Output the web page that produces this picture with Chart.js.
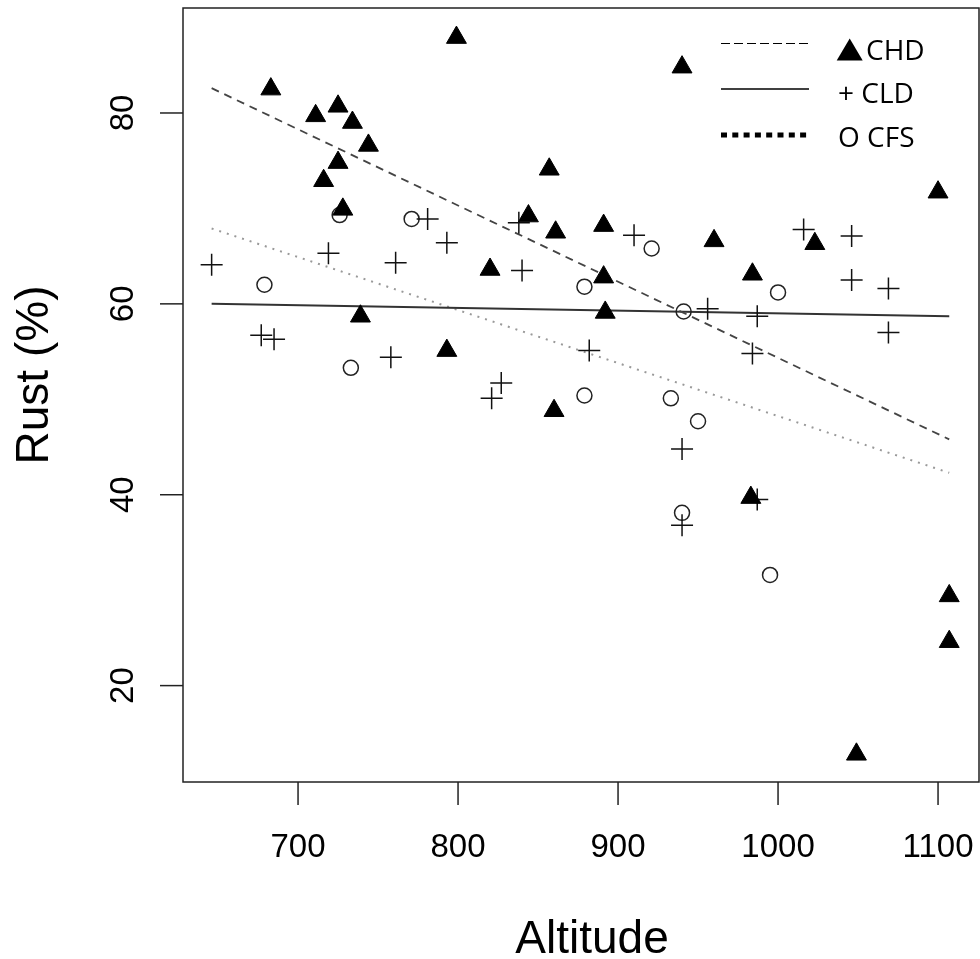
<!DOCTYPE html>
<html>
<head>
<meta charset="utf-8">
<script src="https://cdn.jsdelivr.net/npm/chart.js@4.4.0/dist/chart.umd.min.js"></script>
<style>
  body { margin: 0; background: #fff; }
  canvas { display: block; }
</style>
</head>
<body>
<canvas id="myChart" width="980" height="959"></canvas>
<script>
// values
const chdAlt = [799, 683, 725, 711, 734, 744, 725, 716, 728, 857, 844, 861, 820, 739, 793, 940, 1100, 891, 960, 1023, 984, 891, 892, 983, 1107, 1107, 1049, 860];
const chdRust = [87.9, 82.5, 80.7, 79.7, 79.0, 76.6, 74.8, 72.9, 69.9, 74.1, 69.2, 67.5, 63.6, 58.7, 55.1, 84.8, 71.7, 68.2, 66.6, 66.3, 63.1, 62.8, 59.1, 39.7, 29.4, 24.6, 12.8, 48.8];

const cldAlt = [646, 719, 761, 781, 793, 838, 840, 677, 685, 758, 827, 821, 910, 1016, 1046, 1046, 1069, 1069, 956, 987, 882, 984, 940, 940, 987];
const cldRust = [64.1, 65.3, 64.3, 68.9, 66.4, 68.5, 63.5, 56.7, 56.3, 54.4, 51.7, 50.1, 67.2, 67.8, 67.1, 62.5, 61.6, 57.0, 59.5, 58.7, 55.1, 54.8, 44.8, 36.8, 39.5];

const cfsAlt = [679, 726, 771, 733, 879, 921, 1000, 941, 879, 933, 950, 940, 995];
const cfsRust = [62.0, 69.3, 68.9, 53.3, 61.8, 65.8, 61.2, 59.2, 50.4, 50.1, 47.7, 38.1, 31.6];

// fitted lines, end points
const fitAlt = [646, 1107];
const chdFit = [82.6, 45.8];
const cldFit = [60.0, 58.7];
const cfsFit = [67.9, 42.3];

const xTicks = [700, 800, 900, 1000, 1100];
const yTicks = [20, 40, 60, 80];
const legendNames = ["CHD", "+ CLD", "O CFS"];

const pts = (xs, ys) => xs.map((x, i) => ({ x: x, y: ys[i] }));

const rPlot = {
  id: "rPlot",
  afterDraw(chart) {
    const ctx = chart.ctx;
    const a = chart.chartArea;
    const xs = chart.scales.x;
    const ys = chart.scales.y;
    ctx.save();
    ctx.strokeStyle = "#222";
    ctx.lineWidth = 1.5;
    ctx.strokeRect(a.left, a.top, a.right - a.left, a.bottom - a.top);

    ctx.fillStyle = "#000";
    ctx.font = "33px 'Liberation Sans', Arial, sans-serif";
    ctx.textAlign = "center";
    ctx.textBaseline = "alphabetic";
    xTicks.forEach((v) => {
      const px = xs.getPixelForValue(v);
      ctx.beginPath();
      ctx.moveTo(px, a.bottom);
      ctx.lineTo(px, a.bottom + 23);
      ctx.stroke();
      ctx.fillText(String(v), px, 857);
    });
    yTicks.forEach((v) => {
      const py = ys.getPixelForValue(v);
      ctx.beginPath();
      ctx.moveTo(a.left, py);
      ctx.lineTo(a.left - 23, py);
      ctx.stroke();
      ctx.save();
      ctx.translate(133, py);
      ctx.rotate(-Math.PI / 2);
      ctx.fillText(String(v), 0, 0);
      ctx.restore();
    });

    ctx.font = "46px 'Liberation Sans', Arial, sans-serif";
    ctx.fillText("Altitude", 592, 953);
    ctx.save();
    ctx.translate(48, 375);
    ctx.rotate(-Math.PI / 2);
    ctx.fillText("Rust (%)", 0, 0);
    ctx.restore();

    // legend
    ctx.strokeStyle = "#000";
    ctx.lineWidth = 1.2;
    ctx.setLineDash([9, 4]);
    ctx.beginPath();
    ctx.moveTo(721, 43.5);
    ctx.lineTo(809, 43.5);
    ctx.stroke();
    ctx.setLineDash([]);
    ctx.lineWidth = 1.6;
    ctx.beginPath();
    ctx.moveTo(721, 89);
    ctx.lineTo(809, 89);
    ctx.stroke();
    ctx.lineWidth = 5;
    ctx.setLineDash([6, 5.3]);
    ctx.beginPath();
    ctx.moveTo(721, 135);
    ctx.lineTo(809, 135);
    ctx.stroke();
    ctx.setLineDash([]);

    ctx.beginPath();
    ctx.moveTo(849.7, 38.5);
    ctx.lineTo(862.7, 60.5);
    ctx.lineTo(836.7, 60.5);
    ctx.closePath();
    ctx.fill();

    ctx.font = "28px 'Open Sans', sans-serif";
    ctx.textAlign = "left";
    ctx.fillText(legendNames[0], 866, 60);
    ctx.fillText(legendNames[1], 838, 103);
    ctx.fillText(legendNames[2], 838, 147);
    ctx.restore();
  },
};

new Chart(document.getElementById("myChart"), {
  data: {
    datasets: [
      {
        type: "scatter",
        data: pts(chdAlt, chdRust),
        pointStyle: "triangle",
        pointRadius: 11.5,
        backgroundColor: "#000",
        borderColor: "#000",
        borderWidth: 1,
      },
      {
        type: "scatter",
        data: pts(cldAlt, cldRust),
        pointStyle: "cross",
        pointRadius: 11,
        borderColor: "#111",
        borderWidth: 1.5,
      },
      {
        type: "scatter",
        data: pts(cfsAlt, cfsRust),
        pointStyle: "circle",
        pointRadius: 7.5,
        backgroundColor: "rgba(0,0,0,0)",
        borderColor: "#222",
        borderWidth: 1.5,
      },
      {
        type: "line",
        data: pts(fitAlt, chdFit),
        borderColor: "#444",
        borderWidth: 1.8,
        borderDash: [8, 6],
        pointRadius: 0,
      },
      {
        type: "line",
        data: pts(fitAlt, cldFit),
        borderColor: "#333",
        borderWidth: 2,
        pointRadius: 0,
      },
      {
        type: "line",
        data: pts(fitAlt, cfsFit),
        borderColor: "#999",
        borderWidth: 2,
        borderDash: [2, 6],
        pointRadius: 0,
      },
    ],
  },
  options: {
    responsive: false,
    animation: false,
    layout: { autoPadding: false, padding: { left: 0, top: 8, right: 1, bottom: 0 } },
    plugins: { legend: { display: false }, tooltip: { enabled: false } },
    scales: {
      x: {
        type: "linear",
        min: 628.1,
        max: 1125.6,
        grid: { display: false },
        border: { display: false },
        ticks: { display: false },
        afterBuildTicks: (s) => { s.ticks = xTicks.map((v) => ({ value: v })); },
        afterFit: (s) => { s.height = 177; },
      },
      y: {
        type: "linear",
        min: 9.9,
        max: 91.0,
        grid: { display: false },
        border: { display: false },
        ticks: { display: false },
        afterBuildTicks: (s) => { s.ticks = yTicks.map((v) => ({ value: v })); },
        afterFit: (s) => { s.width = 183; },
      },
    },
  },
  plugins: [rPlot],
});
</script>
</body>
</html>
